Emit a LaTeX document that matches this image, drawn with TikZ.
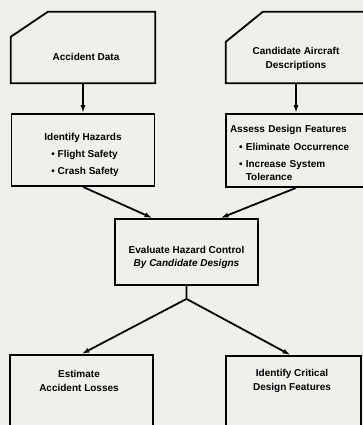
\documentclass[tikz,border=0pt]{standalone}
\usepackage{fontspec}
\setmainfont{Liberation Sans}
\usetikzlibrary{arrows.meta}
\definecolor{paper}{RGB}{239,239,236}
\tikzset{
    flowbox/.style={draw, line width=1.8pt, inner sep=4pt, align=center,
        font=\bfseries\fontsize{10}{13}\selectfont},
    listbox/.style={flowbox, align=left, font=\bfseries\fontsize{10}{17}\selectfont},
    boxtext/.style={align=center, inner sep=0pt, font=\bfseries\fontsize{10}{14}\selectfont},
    flow/.style={line width=1.8pt, -{Latex[length=8pt,width=5pt]}},
}

\begin{document}
\begin{tikzpicture}[x=1pt, y=-1pt]
            \fill[paper] (0,0) rectangle (363,425);
            \useasboundingbox (0,0) rectangle (363,425);
            \clip (0,0) rectangle (363,425);

            \node [minimum width=144pt, minimum height=71pt] (acc) at (83,47.5) {};
            \node [minimum width=140pt, minimum height=71pt] (cand) at (296,47.5) {};
            \draw [line width=1.8pt] ([yshift=-25pt]acc.north west) -- ([xshift=37pt]acc.north west)
                -- (acc.north east) -- (acc.south east) -- (acc.south west) -- cycle;
            \draw [line width=1.8pt] ([yshift=-30pt]cand.north west) -- ([xshift=37pt]cand.north west)
                -- (cand.north east) -- (cand.south east) -- (cand.south west) -- cycle;
            \node [boxtext] (acc-txt) at (86,57) {Accident Data};
            \node [boxtext] (cand-txt) at (296,59) {Candidate Aircraft\\Descriptions};

            \node [listbox, minimum width=143pt, minimum height=72pt] (haz) at (83,150)
                {\rule{0pt}{17pt}Identify Hazards\\\hspace*{7pt}\textbullet\ Flight Safety\\
                 \hspace*{7pt}\textbullet\ Crash Safety};
            \node [listbox, minimum height=73pt, text width=132pt] (feat) at (296,150.5)
                {\rule{0pt}{13pt}Assess Design Features\\[1pt]\hspace*{9pt}\textbullet\ Eliminate Occurrence\\
                 \hspace*{9pt}\textbullet\ Increase System\\[-4pt]\hspace*{9pt}\phantom{\textbullet\ }Tolerance};

            \node [flowbox, minimum width=143pt, minimum height=66pt] (eval) at (186.5,252)
                {\rule{0pt}{19pt}Evaluate Hazard Control\\\itshape By Candidate Designs};

            \node [flowbox, minimum width=143pt, minimum height=90pt, anchor=north] (loss) at (81.5,354) {};
            \node [flowbox, minimum width=135pt, minimum height=90pt, anchor=north] (crit) at (293.5,355) {};
            \node [boxtext] (loss-txt) at (79,381) {Estimate\\Accident Losses};
            \node [boxtext] (crit-txt) at (292,381) {Identify Critical\\Design Features};

            \coordinate (fork) at ([yshift=-13pt]eval.south);

            \draw [flow] (acc.south) -- (haz.north);
            \draw [flow] (cand.south) -- (feat.north);
            \draw [flow] (haz.south) -- ([xshift=-34pt]eval.north);
            \draw [flow] (feat.south) -- ([xshift=34pt]eval.north);
            \draw [flow] (eval.south) -- (fork) -- (loss.north);
            \draw [flow] (fork) -- ([xshift=-3pt]crit.north);
        \end{tikzpicture}
\end{document}
